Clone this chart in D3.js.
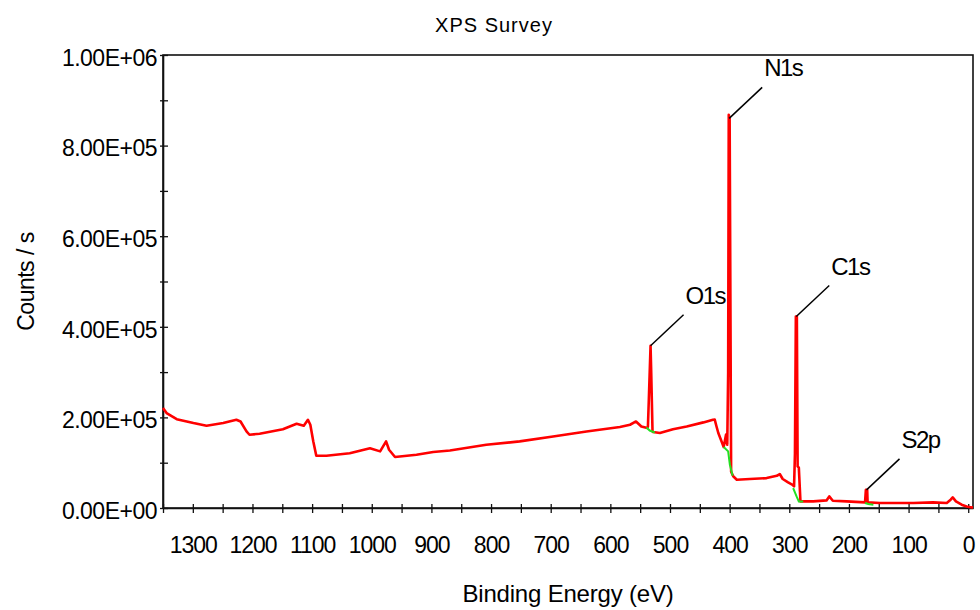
<!DOCTYPE html>
<html>
<head>
<meta charset="utf-8">
<script src="https://cdn.jsdelivr.net/npm/d3@7"></script>
<style>
  body { margin: 0; background: #fff; }
  svg { display: block; font-family: Arial, "Liberation Sans", sans-serif; }
</style>
</head>
<body>
<svg id="chart" width="980" height="610"></svg>
<script>
// survey spectrum, binding energy (eV) and counts/s
var energy = [1350, 1344, 1327, 1299, 1277, 1249, 1227, 1220, 1210, 1205, 1188, 1149, 1126, 1114, 1107, 1103, 1098, 1093,
  1076, 1037, 1003, 986, 976, 971, 961, 925, 897, 869, 808, 752, 696, 640, 584, 567, 557, 548, 538,
  537, 535.5, 532.6, 531.5, 529.3, 528.3, 517, 495, 472, 444, 428, 425, 422, 419, 413.5, 410, 406, 404,
  402.5, 401.5, 400, 397.5, 394, 388, 366, 338, 321, 316, 311, 302, 294.5, 292,
  290.5, 289, 287.3, 286, 284, 281.3, 260, 237.6, 233, 227, 204, 173,
  171.6, 169.4, 168.7, 148, 92, 59, 36, 29.5, 26, 20.6, 11, 2.7, -5.7, -8];
var counts = [220600, 209600, 196000, 187500, 181500, 187500, 194800, 191000, 169000, 161700, 164000, 174000, 186000, 181500, 194800, 183800, 147000, 115400,
  115400, 121000, 132000, 125000, 147000, 128600, 112500, 117600, 123500, 127000, 139600, 147000, 158000, 169000, 178700, 183800, 191000, 180000, 176500,
  180000, 239000, 358000, 300000, 169000, 167600, 165500, 174000, 180000, 189000, 194800, 195000, 180000, 165500, 147000, 134600, 162000, 139600,
  298000, 868000, 860000, 80000, 70000, 62400, 64000, 66000, 71000, 75000, 64000, 56500, 51000, 47600,
  120000, 422700, 422700, 91800, 89000, 14600, 14600, 16800, 25600, 16000, 14600, 12400,
  40000, 40000, 12400, 11000, 11000, 12400, 11000, 18300, 23400, 14600, 7300, 3500, 1300, 1300];

// fitted backgrounds under the peaks (green)
var bgO1s = [[539.5, 177800], [534, 171000], [525.5, 166800]];
var bgN1s = [[410, 134600], [402.5, 125000], [399.6, 95500], [395, 71000]];
var bgC1s = [[293.5, 44000], [287.8, 25600], [284, 14600], [276.7, 14600]];
var bgS2p = [[173, 11000], [167.7, 8800], [159, 7300]];

var peakNames = ['O1s', 'N1s', 'C1s', 'S2p'];
var peakEnergy = [532.6, 400.8, 288.3, 170.5];
var peakCounts = [358000, 860000, 422700, 40000];

var xTicks = d3.range(1350, -1, -50);
var xLabels = [1300, 1200, 1100, 1000, 900, 800, 700, 600, 500, 400, 300, 200, 100, 0];
var yTicks = d3.range(0, 1000001, 100000);
var yLabelValues = [0, 200000, 400000, 600000, 800000, 1000000];
var yLabelText = ['0.00E+00', '2.00E+05', '4.00E+05', '6.00E+05', '8.00E+05', '1.00E+06'];

var margin = {top: 55, right: 7, bottom: 102, left: 163};
var width = 980 - margin.left - margin.right;
var height = 610 - margin.top - margin.bottom;

var svg = d3.select('#chart');

var x = d3.scaleLinear()
  .domain([1350, -8])
  .range([margin.left, margin.left + width]);

var y = d3.scaleLinear()
  .domain([0, 1000000])
  .range([margin.top + height, margin.top]);

// frame
svg.append('rect')
  .attr('x', margin.left)
  .attr('y', margin.top)
  .attr('width', width)
  .attr('height', height)
  .attr('fill', 'none')
  .attr('stroke', '#111')
  .attr('stroke-width', 1.6);

// x axis
var xAxis = d3.axisBottom(x)
  .tickValues(xTicks)
  .tickSize(0)
  .tickPadding(29)
  .tickFormat(function(d) { return xLabels.indexOf(d) >= 0 ? d : ''; });

var gx = svg.append('g')
  .attr('transform', 'translate(0,' + y(0) + ')')
  .call(xAxis);
gx.select('.domain').attr('stroke', '#111').attr('stroke-width', 1.6);
gx.selectAll('.tick line').attr('y1', -4).attr('y2', 5).attr('stroke', '#111').attr('stroke-width', 1.3);
gx.selectAll('.tick text')
  .attr('fill', '#000')
  .style('font-size', '23px')
  .style('letter-spacing', '-1px')
  .style('font-family', 'Arial, "Liberation Sans", sans-serif');

// y axis
var yAxis = d3.axisLeft(y)
  .tickValues(yTicks)
  .tickSize(0)
  .tickPadding(6)
  .tickFormat(function(d) {
    var i = yLabelValues.indexOf(d);
    return i >= 0 ? yLabelText[i] : '';
  });

var gy = svg.append('g')
  .attr('transform', 'translate(' + margin.left + ',0)')
  .call(yAxis);
gy.select('.domain').attr('stroke', '#111').attr('stroke-width', 1.6);
gy.selectAll('.tick line').attr('x1', -3).attr('x2', 5).attr('stroke', '#111').attr('stroke-width', 1.3);
gy.selectAll('.tick text')
  .attr('fill', '#000')
  .attr('dy', '0.45em')
  .style('font-size', '23px')
  .style('letter-spacing', '-0.5px')
  .style('font-family', 'Arial, "Liberation Sans", sans-serif');

// spectrum
var line = d3.line()
  .x(function(d) { return x(d[0]); })
  .y(function(d) { return y(d[1]); });

var spectrum = energy.map(function(e, i) { return [e, counts[i]]; });

svg.append('path')
  .datum(spectrum)
  .attr('d', line)
  .attr('fill', 'none')
  .attr('stroke', '#ff0000')
  .attr('stroke-width', 2.6)
  .attr('stroke-linejoin', 'round');

[bgO1s, bgN1s, bgC1s, bgS2p].forEach(function(bg) {
  svg.append('path')
    .datum(bg)
    .attr('d', line)
    .attr('fill', 'none')
    .attr('stroke', '#22e022')
    .attr('stroke-width', 2);
});

// peak labels with leader lines
var labels = svg.append('g');
peakNames.forEach(function(name, i) {
  var px = x(peakEnergy[i]);
  var py = y(peakCounts[i]);
  labels.append('line')
    .attr('x1', px).attr('y1', py)
    .attr('x2', px + 33).attr('y2', py - 31)
    .attr('stroke', '#000')
    .attr('stroke-width', 1.5);
  labels.append('text')
    .attr('x', px + 35)
    .attr('y', py - 42)
    .style('font-size', '24px')
    .style('letter-spacing', '-1.5px')
    .text(name);
});

// titles
svg.append('text')
  .attr('x', 494)
  .attr('y', 32)
  .attr('text-anchor', 'middle')
  .style('font-size', '20px')
  .style('letter-spacing', '1px')
  .text('XPS Survey');

svg.append('text')
  .attr('x', margin.left + width / 2)
  .attr('y', 602)
  .attr('text-anchor', 'middle')
  .style('font-size', '24px')
  .style('letter-spacing', '-0.2px')
  .text('Binding Energy (eV)');

svg.append('text')
  .attr('transform', 'translate(34,' + (margin.top + height / 2) + ') rotate(-90)')
  .attr('text-anchor', 'middle')
  .style('font-size', '23px')
  .style('letter-spacing', '-0.5px')
  .text('Counts / s');
</script>
</body>
</html>
